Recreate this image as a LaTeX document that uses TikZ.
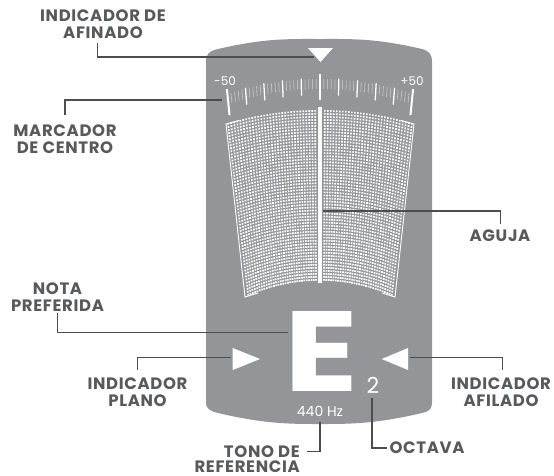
\documentclass[tikz,border=0pt]{standalone}
\usepackage{fontspec}
\setmainfont{Poppins}
\definecolor{bodygray}{HTML}{939598}
\definecolor{txtgray}{HTML}{58595B}
\definecolor{lngray}{HTML}{4D4D4F}
\definecolor{faintgray}{HTML}{BDBEC0}
\tikzset{
  lbl/.style={font=\fontsize{16.5}{16.5}\selectfont\bfseries\addfontfeatures{LetterSpace=4}, text=txtgray, align=center, inner sep=0pt},
  conn/.style={draw=lngray, line width=1.15pt},
  dispw/.style={text=white, inner sep=0pt},
  tickmed/.style={draw=white, line width=1.3pt},
  ticklong/.style={draw=white, line width=2pt},
  tickfaint/.style={draw=faintgray, line width=0.8pt},
}
\begin{document}
\begin{tikzpicture}[x=1pt,y=-1pt]
\useasboundingbox (0,0) rectangle (554,475);
% body
\fill[bodygray] (206,62) .. controls (206,54) and (209,51) .. (218,49)
  .. controls (265,38) and (290,39) .. (320,39)
  .. controls (350,39) and (375,38) .. (422,49)
  .. controls (429,51) and (432,54) .. (432,62)
  -- (432,402) .. controls (432,409) and (430,411) .. (422,413)
  .. controls (375,424) and (350,424) .. (320,424)
  .. controls (290,424) and (265,424) .. (218,413)
  .. controls (210,411) and (206,409) .. (206,402) -- cycle;
% tuning indicator
\fill[white] (308,48) -- (333,48) -- (320.5,62) -- cycle;
% scale ticks
\foreach \c in {-48,-46,...,48}{
  \pgfmathsetmacro{\D}{\c*92/50}
  \pgfmathsetmacro{\k}{0.00178*\D*\D}
  \pgfmathsetmacro{\f}{\D/922}
  \pgfmathtruncatemacro{\m}{mod(abs(\c),10)}
  \ifnum\m=0\relax
    \ifnum\c=0\relax\else
    \draw[tickmed] ({320+\f*(944-\k)},{78+\k}) -- ({320+\f*(927-\k)},{95+\k});
    \fi
  \else
    \draw[tickfaint] ({320+\f*(943-\k)},{79+\k}) -- ({320+\f*(933-\k)},{89+\k});
  \fi
}
\foreach \c in {-50,0,50}{
  \pgfmathsetmacro{\D}{\c*92/50}
  \pgfmathsetmacro{\k}{0.00178*\D*\D}
  \pgfmathsetmacro{\f}{\D/922}
  \draw[ticklong] ({320+\f*(948-\k)},{74+\k}) -- ({320+\f*(922-\k)},{100+\k});
}
\node[dispw, font=\fontsize{12}{12}\selectfont] (mn) at (225,81.5) {-50};
\node[dispw, font=\fontsize{12}{12}\selectfont] (pl) at (412,81.5) {+50};
% dot field
\fill[white] \foreach \j in {0,...,56}{ \foreach \i in {0,...,29}{
  ({320+(4+3*\i)*(1-0.22*\j/56)}, {110+\j*169/56+(13+2*\j/56)*((4+3*\i)/91)^2}) rectangle ++(1.7,1.7)
  ({320-(4+3*\i)*(1-0.22*\j/56)-1.7}, {110+\j*169/56+(13+2*\j/56)*((4+3*\i)/91)^2}) rectangle ++(1.7,1.7)
}};
% brackets
\draw[white, line width=0.9pt] (239,120.5) -- (226,124) -- (245,297) -- (258,293);
\draw[white, line width=0.9pt] (401,120.5) -- (414,124) -- (395,297) -- (382,293);
% needle
\fill[white] (318.2,107) rectangle (322.2,283);
% flat / sharp indicators
\fill[white] (232.7,348) -- (232.7,370) -- (260,359) -- cycle;
\fill[white] (408,348) -- (408,370) -- (381.7,359) -- cycle;
% note
\node[dispw, font=\fontsize{114}{114}\selectfont\bfseries, xscale=1.2, transform shape] (note) at (322,351) {E};
\node[dispw, font=\fontsize{22}{22}\selectfont] (oct) at (373,385.5) {2};
\node[dispw, font=\fontsize{14}{14}\selectfont] (ref) at (320,411.7) {440 Hz};
% labels
\node[lbl] (lA) at (103,24) {INDICADOR DE\\AFINADO};
\node[lbl] (lB) at (65,139) {MARCADOR\\DE CENTRO};
\node[lbl] (lC) at (500,236) {AGUJA};
\node[lbl] (lD) at (57.5,297) {NOTA\\PREFERIDA};
\node[lbl] (lE) at (137.5,392) {INDICADOR\\PLANO};
\node[lbl] (lF) at (501,392) {INDICADOR\\AFILADO};
\node[lbl, font=\fontsize{16.5}{15.5}\selectfont\bfseries\addfontfeatures{LetterSpace=4}, align=right, anchor=north east] (lG) at (300,445.5) {TONO DE\\REFERENCIA};
\node[lbl] (lH) at (427,448) {OCTAVA};
% connector coordinates
\coordinate (a1) at (97.7,43);   \coordinate (a2) at (314,57);
\coordinate (b1) at (65,115);    \coordinate (b2) at (222,100);
\coordinate (c1) at (500.7,224); \coordinate (c2) at (323,211);
\coordinate (d1) at (57.3,313);  \coordinate (d2) at (288,332.5);
\coordinate (e1) at (137.3,370); \coordinate (e2) at (231,357.3);
\coordinate (f1) at (502.7,370); \coordinate (f2) at (410,357.3);
\coordinate (g1) at (307,451.5); \coordinate (g2) at (320,422);
\coordinate (h1) at (386.7,448); \coordinate (h2) at (372,398);
\draw[conn] (a1) |- (a2);
\draw[conn] (b1) |- (b2);
\draw[conn] (c1) |- (c2);
\draw[conn] (d1) |- (d2);
\draw[conn] (e1) |- (e2);
\draw[conn] (f1) |- (f2);
\draw[conn] (g1) -| (g2);
\draw[conn] (h1) -| (h2);
\end{tikzpicture}
\end{document}
